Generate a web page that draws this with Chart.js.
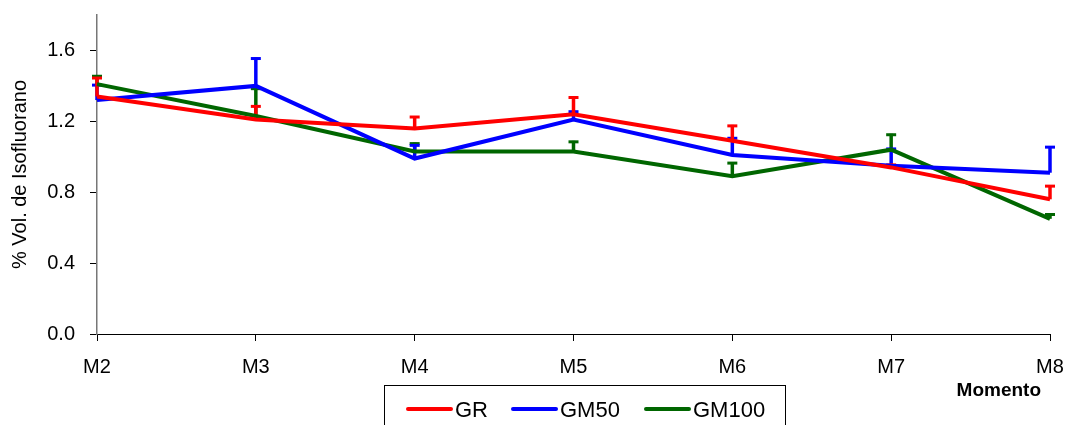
<!DOCTYPE html>
<html>
<head>
<meta charset="utf-8">
<script src="https://cdn.jsdelivr.net/npm/chart.js@4/dist/chart.umd.min.js"></script>
<style>
  html, body { margin: 0; padding: 0; background: #fff; }
  #wrap { width: 1069px; height: 425px; position: relative; }
</style>
</head>
<body>
<div id="wrap"><canvas id="c" width="1069" height="425"></canvas></div>
<script>
// Moments of measurement
const momentos = ['M2', 'M3', 'M4', 'M5', 'M6', 'M7', 'M8'];

// Mean % vol. of isoflurane per group
const grMedia     = [1.34, 1.21, 1.16, 1.24, 1.09, 0.94, 0.76];
const gm50Media   = [1.32, 1.40, 0.99, 1.21, 1.01, 0.95, 0.91];
const gm100Media  = [1.41, 1.23, 1.03, 1.03, 0.89, 1.04, 0.65];

// Standard deviations (drawn as upper error bars)
const grDP    = [0.11, 0.08, 0.07, 0.10, 0.09, 0.02, 0.08];
const gm50DP  = [0.09, 0.16, 0.08, 0.05, 0.10, 0.10, 0.15];
const gm100DP = [0.05, 0.16, 0.05, 0.06, 0.08, 0.09, 0.03];

// Y axis tick values
const yTicks = [0.0, 0.4, 0.8, 1.2, 1.6];

const FONT = "'Liberation Sans', Arial, sans-serif";

const series = [
  { label: 'GR',    data: grMedia,    sd: grDP,    color: '#ff0000' },
  { label: 'GM50',  data: gm50Media,  sd: gm50DP,  color: '#0000ff' },
  { label: 'GM100', data: gm100Media, sd: gm100DP, color: '#006600' }
];

// Upper error bars with caps, drawn underneath the lines
const errorBars = {
  id: 'errorBars',
  beforeDatasetsDraw(chart) {
    const ctx = chart.ctx;
    const xs = chart.scales.x, ys = chart.scales.y;
    ctx.save();
    for (let d = chart.data.datasets.length - 1; d >= 0; d--) {
      const ds = chart.data.datasets[d];
      ctx.strokeStyle = ds.borderColor;
      ctx.lineCap = 'butt';
      ds.data.forEach((v, i) => {
        const x = xs.getPixelForValue(i);
        const y0 = ys.getPixelForValue(v);
        const y1 = ys.getPixelForValue(v + ds.sd[i]);
        ctx.lineWidth = 3.5;
        ctx.beginPath();
        ctx.moveTo(x, y0);
        ctx.lineTo(x, y1);
        ctx.stroke();
        ctx.lineWidth = 3;
        ctx.beginPath();
        ctx.moveTo(x - 5, y1 + 1);
        ctx.lineTo(x + 5, y1 + 1);
        ctx.stroke();
      });
    }
    ctx.restore();
  }
};

// Axis titles and the boxed legend below the chart
const decorations = {
  id: 'decorations',
  afterDraw(chart) {
    const ctx = chart.ctx;
    const area = chart.chartArea;
    ctx.save();
    ctx.fillStyle = '#000';

    // Y axis title
    ctx.save();
    ctx.translate(20, (area.top + area.bottom) / 2);
    ctx.rotate(-Math.PI / 2);
    ctx.font = '20px ' + FONT;
    ctx.textAlign = 'center';
    ctx.textBaseline = 'middle';
    ctx.fillText('% Vol. de Isofluorano', 0, 0);
    ctx.restore();

    // X axis title
    ctx.font = 'bold 19px ' + FONT;
    ctx.textAlign = 'right';
    ctx.textBaseline = 'middle';
    ctx.fillText('Momento', 1041, 391);

    // Legend box
    ctx.strokeStyle = '#000';
    ctx.lineWidth = 1;
    ctx.strokeRect(384.5, 385.5, 401, 60);

    const items = [407, 512, 645];
    ctx.font = '22px ' + FONT;
    ctx.textAlign = 'left';
    chart.data.datasets.forEach((ds, i) => {
      const x = items[i];
      ctx.strokeStyle = ds.borderColor;
      ctx.lineWidth = 4;
      ctx.lineCap = 'round';
      ctx.beginPath();
      ctx.moveTo(x + 1, 409);
      ctx.lineTo(x + 44, 409);
      ctx.stroke();
      ctx.fillStyle = '#000';
      ctx.fillText(ds.label, x + 48, 411);
    });
    ctx.restore();
  }
};

new Chart(document.getElementById('c'), {
  type: 'line',
  data: {
    labels: momentos,
    datasets: series.map(s => ({
      label: s.label,
      data: s.data,
      sd: s.sd,
      borderColor: s.color,
      backgroundColor: s.color,
      borderWidth: 4,
      pointRadius: 0,
      tension: 0,
      fill: false
    }))
  },
  options: {
    responsive: false,
    animation: false,
    devicePixelRatio: 1,
    layout: { padding: { left: 0, right: 19, top: 15, bottom: 0 } },
    plugins: {
      legend: { display: false },
      tooltip: { enabled: false }
    },
    scales: {
      x: {
        type: 'category',
        offset: false,
        grid: {
          offset: false,
          drawOnChartArea: false,
          drawTicks: true,
          tickLength: 7,
          color: '#000'
        },
        border: { color: '#000', width: 1 },
        ticks: {
          color: '#000',
          font: { family: FONT, size: 20 },
          padding: 14,
          maxRotation: 0,
          autoSkip: false
        },
        afterFit(scale) {
          scale.height = 91;
          scale.paddingLeft = 0;
          scale.paddingRight = 0;
        }
      },
      y: {
        min: 0,
        max: 1.8,
        grid: {
          drawOnChartArea: false,
          drawTicks: true,
          tickLength: 7,
          color: '#000'
        },
        border: { color: '#777', width: 1.5 },
        afterBuildTicks(scale) { scale.ticks = yTicks.map(v => ({ value: v })); },
        ticks: {
          color: '#000',
          font: { family: FONT, size: 20 },
          padding: 15,
          callback: v => Number(v).toFixed(1)
        },
        afterFit(scale) {
          scale.width = 97;
          scale.paddingTop = 0;
          scale.paddingBottom = 0;
        }
      }
    }
  },
  plugins: [errorBars, decorations]
});
</script>
</body>
</html>
